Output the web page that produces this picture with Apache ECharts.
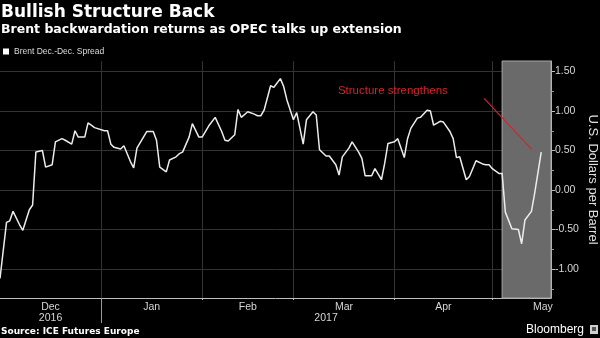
<!DOCTYPE html>
<html><head><meta charset="utf-8">
<script src="https://cdn.jsdelivr.net/npm/echarts@6/dist/echarts.min.js"></script>
<style>html,body{margin:0;padding:0;background:#000}#c{width:600px;height:338px}</style>
</head><body><div id="c"></div>
<script>
// ---- data ----
const dates = [
'2016-12-01','2016-12-03','2016-12-04','2016-12-05','2016-12-07','2016-12-08','2016-12-10','2016-12-11',
'2016-12-12','2016-12-14','2016-12-15','2016-12-17','2016-12-18','2016-12-20','2016-12-21','2016-12-23',
'2016-12-24','2016-12-25','2016-12-27','2016-12-28','2016-12-29','2016-12-30',
'2017-01-02','2017-01-03','2017-01-04','2017-01-05','2017-01-07','2017-01-08','2017-01-10','2017-01-11',
'2017-01-12','2017-01-14','2017-01-15','2017-01-17','2017-01-18','2017-01-19','2017-01-21','2017-01-22',
'2017-01-24','2017-01-25','2017-01-26','2017-01-28','2017-01-29','2017-01-31',
'2017-02-01','2017-02-03','2017-02-05','2017-02-07','2017-02-08','2017-02-09','2017-02-11','2017-02-12',
'2017-02-13','2017-02-15','2017-02-17','2017-02-18','2017-02-19','2017-02-20','2017-02-22','2017-02-23',
'2017-02-25','2017-02-26','2017-02-27',
'2017-03-01','2017-03-02','2017-03-04','2017-03-05','2017-03-07','2017-03-08','2017-03-09','2017-03-11',
'2017-03-12','2017-03-14','2017-03-15','2017-03-16','2017-03-18','2017-03-19','2017-03-21','2017-03-22',
'2017-03-23','2017-03-25','2017-03-26','2017-03-28','2017-03-29','2017-03-30',
'2017-04-01','2017-04-02','2017-04-04','2017-04-05','2017-04-06','2017-04-08','2017-04-09','2017-04-11',
'2017-04-12','2017-04-13','2017-04-15','2017-04-16','2017-04-18','2017-04-19','2017-04-20','2017-04-21',
'2017-04-23','2017-04-24','2017-04-26','2017-04-28','2017-04-29','2017-04-30',
'2017-05-01','2017-05-03','2017-05-04','2017-05-05','2017-05-07','2017-05-09','2017-05-10','2017-05-11',
'2017-05-13','2017-05-14','2017-05-16'
];
const spread = [
-1.12,-0.41,-0.39,-0.27,-0.44,-0.51,-0.25,-0.19,
0.48,0.50,0.29,0.32,0.61,0.65,0.63,0.58,
0.75,0.67,0.67,0.85,0.82,0.79,
0.75,0.75,0.58,0.54,0.52,0.56,0.36,0.28,
0.53,0.67,0.74,0.74,0.63,0.29,0.23,0.38,
0.42,0.46,0.48,0.67,0.84,0.67,
0.67,0.81,0.92,0.74,0.63,0.62,0.70,1.02,
0.92,0.99,0.96,0.94,0.94,1.01,1.32,1.30,
1.41,1.31,1.14,
0.89,0.98,0.58,0.89,0.99,0.95,0.51,0.43,
0.43,0.32,0.19,0.42,0.53,0.61,0.48,0.40,
0.18,0.18,0.27,0.13,0.34,0.59,
0.61,0.65,0.41,0.65,0.78,0.91,0.92,1.01,
1.00,0.82,0.87,0.86,0.74,0.65,0.41,0.42,
0.13,0.17,0.37,0.33,0.32,0.32,
0.27,0.21,0.21,-0.28,-0.49,-0.50,-0.68,-0.38,
-0.27,-0.04,0.48
];
const seriesName = 'Brent Dec.-Dec. Spread';
const monthNames = ['Jan','Feb','Mar','Apr','May','Jun','Jul','Aug','Sep','Oct','Nov','Dec'];
const monthStarts = ['2017-01-01','2017-02-01','2017-03-01','2017-04-01','2017-05-01'];
const monthMids = ['2016-12-16 12:00','2017-01-16 12:00','2017-02-15 00:00','2017-03-16 12:00','2017-04-16 00:00','2017-05-16 12:00'];
const yearLabelDates = ['2016-12-16 12:00','2017-03-11 00:00'];
const yearSeparator = ['2017-01-01'];
const xMin = '2016-12-01';
const xMax = '2017-05-19';
const yMin = -1.367, yMax = 1.633;
const yTicks = [-1, -0.5, 0, 0.5, 1, 1.5];
const yMinorTicks = [-1.25, -0.75, -0.25, 0.25, 0.75, 1.25];
const shadeStart = '2017-05-04';
const arrowFrom = ['2017-04-28 12:00', 1.16];
const arrowTo = ['2017-05-13 02:00', 0.515];
const noteAt = ['2017-03-31 12:00', 1.25];
const noteText = 'Structure strengthens';

function t(s) {
  const m = s.match(/(\d+)-(\d+)-(\d+)(?:\s+(\d+):(\d+))?/);
  return new Date(+m[1], +m[2] - 1, +m[3], m[4] ? +m[4] : 0, m[5] ? +m[5] : 0).getTime();
}
const lineData = dates.map((d, i) => [t(d), spread[i]]);

const REG = '"Liberation Sans", Arial, sans-serif';
const BOLD = '"DejaVu Sans", sans-serif';

const chart = echarts.init(document.getElementById('c'), null, {renderer: 'canvas'});
chart.setOption({
  backgroundColor: '#000',
  animation: false,
  title: [
    {text: 'Bullish Structure Back', left: 1, top: 4, padding: 0,
     textStyle: {fontFamily: BOLD, fontWeight: 'bold', fontSize: 17, color: '#fff'}},
    {text: 'Brent backwardation returns as OPEC talks up extension', left: 1, top: 23, padding: 0,
     textStyle: {fontFamily: BOLD, fontWeight: 'bold', fontSize: 12.5, color: '#fff'}},
    {text: 'Source: ICE Futures Europe', left: 1, top: 327, padding: 0,
     textStyle: {fontFamily: BOLD, fontWeight: 'bold', fontSize: 9, color: '#fff'}},
    {text: 'Bloomberg', right: 16, top: 324, padding: 0,
     textStyle: {fontFamily: REG, fontWeight: 'normal', fontSize: 12, color: '#fff'}}
  ],
  legend: {
    data: [seriesName], left: 3, top: 47, padding: 0, icon: 'rect', itemWidth: 6, itemHeight: 6,
    textStyle: {fontFamily: REG, fontSize: 8.5, color: '#ddd'}
  },
  grid: {left: 0, right: 49, top: 61, bottom: 40, containLabel: false, outerBoundsMode: 'none'},
  xAxis: [
    {
      type: 'value', position: 'bottom', min: t(xMin), max: t(xMax),
      axisLine: {show: true, onZero: false, lineStyle: {color: '#bdbdbd', width: 1}},
      axisTick: {show: true, customValues: monthStarts.map(t), length: 2, lineStyle: {color: '#bdbdbd'}},
      splitLine: {show: true, lineStyle: {color: '#333', width: 1}},
      axisLabel: {show: true, customValues: monthMids.map(t), margin: 4, color: '#d6d6d6',
        fontFamily: REG, fontSize: 10.5,
        formatter: v => monthNames[new Date(v).getMonth()]}
    },
    {
      type: 'value', position: 'bottom', offset: 0, min: t(xMin), max: t(xMax),
      axisLine: {show: false, onZero: false},
      axisTick: {show: true, customValues: yearSeparator.map(t), length: 25, lineStyle: {color: '#9a9a9a'}},
      splitLine: {show: false},
      axisLabel: {show: true, customValues: yearLabelDates.map(t), margin: 15, color: '#d6d6d6',
        fontFamily: REG, fontSize: 10.5,
        formatter: v => String(new Date(v).getFullYear())}
    }
  ],
  yAxis: [
    {
      type: 'value', position: 'right', min: yMin, max: yMax,
      name: 'U.S. Dollars per Barrel', nameLocation: 'middle', nameRotate: -90, nameGap: 35,
      nameMoveOverlap: false,
      nameTextStyle: {fontFamily: REG, fontSize: 13, color: '#e0e0e0'},
      axisLine: {show: true, onZero: false, lineStyle: {color: '#bdbdbd', width: 1}},
      axisTick: {show: true, customValues: yTicks, length: 4, lineStyle: {color: '#bdbdbd'}},
      splitLine: {show: true, lineStyle: {color: '#333', width: 1}},
      axisLabel: {show: true, customValues: yTicks, margin: 4, color: '#d6d6d6',
        fontFamily: REG, fontSize: 10.5, formatter: v => v.toFixed(2)}
    },
    {
      type: 'value', position: 'right', min: yMin, max: yMax,
      axisLine: {show: false, onZero: false},
      axisTick: {show: true, customValues: yMinorTicks, length: 3, lineStyle: {color: '#9a9a9a'}},
      splitLine: {show: false},
      axisLabel: {show: false}
    }
  ],
  series: [
    {
      name: 'shade', type: 'line', data: [], z: 1, silent: true,
      markArea: {
        silent: true,
        itemStyle: {color: '#6a6a6a', borderColor: '#a8a8a8', borderWidth: 1},
        data: [[{xAxis: t(shadeStart)}, {xAxis: t(xMax)}]]
      }
    },
    {
      name: seriesName, type: 'line', data: lineData, z: 5,
      showSymbol: false, symbol: 'none',
      itemStyle: {color: '#ffffff'},
      lineStyle: {color: '#ececec', width: 1.5},
      markLine: {
        silent: true, symbol: ['none', 'arrow'], symbolSize: [0, 8],
        label: {show: false},
        lineStyle: {color: '#d0262b', width: 1.2, type: 'solid'},
        data: [[{coord: [t(arrowFrom[0]), arrowFrom[1]]}, {coord: [t(arrowTo[0]), arrowTo[1]]}]]
      },
      markPoint: {
        silent: true, symbol: 'circle', symbolSize: 1,
        itemStyle: {color: 'rgba(0,0,0,0)'},
        label: {show: true, position: 'inside', formatter: noteText, color: '#d0262b',
          fontFamily: REG, fontSize: 11.5},
        data: [{coord: [t(noteAt[0]), noteAt[1]]}]
      }
    }
  ],
  graphic: [
    {type: 'group', right: 2, top: 325, children: [
      {type: 'rect', shape: {x: 0, y: 0, width: 8, height: 9}, style: {fill: '#cfcfcf'}},
      {type: 'rect', shape: {x: 2, y: 2, width: 4, height: 4}, style: {fill: '#555'}}
    ]}
  ]
});
</script></body></html>
